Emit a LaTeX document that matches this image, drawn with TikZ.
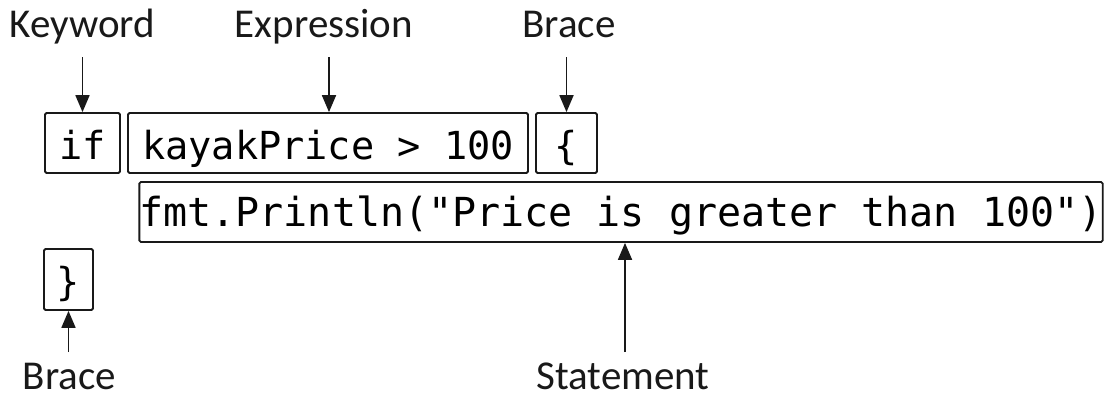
\documentclass[tikz,border=0pt]{standalone}
\usepackage{fontspec}
\setmainfont{Carlito}
\newfontfamily\codefont{DejaVu Sans Mono}
\usetikzlibrary{arrows.meta}

\tikzset{
  ink/.style={draw=black!90, line width=1.8pt},
  codebox/.style={ink, rounded corners=1.5pt, inner sep=0pt, align=center,
    font=\codefont\fontsize{38.6}{40}\selectfont, text height=34pt, text depth=2pt},
  codebig/.style={codebox, font=\codefont\fontsize{40}{42}\selectfont,
    text height=30pt, text depth=2pt},
  lbl/.style={font=\fontsize{41}{44}\selectfont, inner sep=0pt, text=black!90},
  arr/.style={draw=black!90, line width=1.8pt, -{Triangle[length=17pt,width=14pt]}},
}

\begin{document}
\begin{tikzpicture}[x=1pt,y=-1pt]
\useasboundingbox (0,0) rectangle (1104,400);

% code fragments, each in its own box
\node[codebox, minimum width=75pt, minimum height=60pt]  (kw)   at (82.5,143)  {if};
\node[codebox, minimum width=400pt, minimum height=60pt] (expr) at (328,143)   {kayakPrice > 100};
\node[codebox, minimum width=61pt, minimum height=60pt]  (lb)   at (566.5,143) {\{};
\node[codebig, minimum width=952pt, minimum height=60pt] (stmt) at (621,212)   {fmt.Println("Price is greater than 100")};
\node[codebox, minimum width=49pt, minimum height=61pt]  (rb)   at (68.5,279.5) {\}};

% captions
\node[lbl, anchor=base] (lkw)   at (82.5,37) {Keyword};
\node[lbl, anchor=base] (lexp)  at (324,37)  {Expression};
\node[lbl, anchor=base] (lbr)   at (569,37)  {Brace};
\node[lbl, anchor=base] (lbr2)  at (69.5,389) {Brace};
\node[lbl, anchor=base] (lst)   at (623,389) {Statement};

% pointers from captions to fragments
\draw[arr] ([yshift=-20pt]kw.north |- lkw.base) -- (kw.north);
\draw[arr] ([xshift=1pt,yshift=-20pt]expr.north |- lexp.base) -- ([xshift=1pt]expr.north);
\draw[arr] ([yshift=-20pt]lb.north |- lbr.base) -- (lb.north);
\draw[arr] ([yshift=37pt]rb.south |- lbr2.base) -- (rb.south);
\draw[arr] ([xshift=2pt,yshift=37pt]lst.base) -- ([xshift=2pt]lst.base |- stmt.south);
\end{tikzpicture}
\end{document}
